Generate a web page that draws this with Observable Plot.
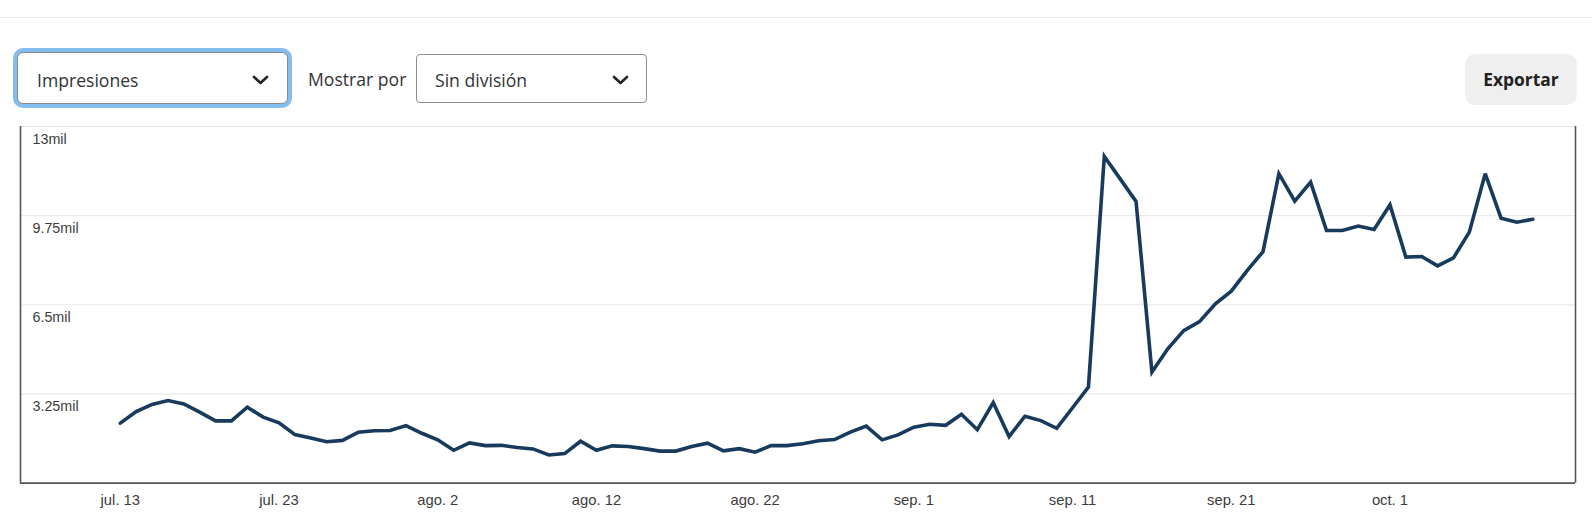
<!DOCTYPE html>
<html>
<head>
<meta charset="utf-8">
<script src="https://cdn.jsdelivr.net/npm/d3@7"></script>
<script src="https://cdn.jsdelivr.net/npm/@observablehq/plot@0.6"></script>
<style>
  html, body { margin: 0; padding: 0; background: #fff; }
  body { width: 1592px; height: 525px; overflow: hidden; font-family: "Open Sans", "Noto Sans", sans-serif; }
  #header { position: relative; width: 1592px; height: 120px; }
  .sep { position: absolute; left: 0; top: 17px; width: 1592px; height: 1px; background: #ececec; }
  .box { position: absolute; box-sizing: border-box; background: #fff; }
  .txt { position: absolute; font-size: 17.6px; color: #333; line-height: 1; white-space: nowrap; }
  .chev { position: absolute; }
  #chart { display: block; }
</style>
</head>
<body>
<div id="header">
  <div class="sep"></div>
  <div class="box" style="left:17px;top:52px;width:271px;height:52px;border:1px solid #8a8a8a;border-radius:6px;box-shadow:0 0 0 4px #84bdf0;"></div>
  <div class="txt" style="left:37px;top:72px;">Impresiones</div>
  <svg class="chev" style="left:252px;top:74px;" width="17" height="12" viewBox="0 0 17 12"><polyline points="2,3 8.5,9 15,3" fill="none" stroke="#222" stroke-width="2.6" stroke-linecap="round" stroke-linejoin="round"/></svg>
  <div class="txt" style="left:308px;top:71px;">Mostrar por</div>
  <div class="box" style="left:416px;top:54px;width:231px;height:49px;border:1px solid #8d8d8d;border-radius:4px;"></div>
  <div class="txt" style="left:435px;top:72px;">Sin división</div>
  <svg class="chev" style="left:612px;top:74px;" width="17" height="12" viewBox="0 0 17 12"><polyline points="2,3 8.5,9 15,3" fill="none" stroke="#222" stroke-width="2.6" stroke-linecap="round" stroke-linejoin="round"/></svg>
  <div class="box" style="left:1465px;top:54px;width:112px;height:51px;background:#efefef;border-radius:10px;"></div>
  <div class="txt" style="left:1465px;top:71px;width:112px;text-align:center;font-weight:700;color:#222;font-size:17.4px;">Exportar</div>
</div>
<div id="chart"></div>
<script>
// ---- data ----
const startDate = new Date(Date.UTC(2023, 6, 13));
const impressions = [
  2190, 2610, 2870, 3010, 2890, 2590, 2270, 2270, 2770, 2410,
  2200, 1770, 1650, 1510, 1560, 1860, 1910, 1920, 2100, 1820,
  1580, 1200, 1470, 1370, 1380, 1300, 1250, 1030, 1080, 1530,
  1200, 1360, 1340, 1260, 1170, 1170, 1340, 1460, 1180, 1260,
  1130, 1370, 1370, 1440, 1550, 1590, 1860, 2080, 1580, 1760,
  2040, 2150, 2110, 2510, 1950, 2940, 1700, 2440, 2280, 2000,
  2750, 3500, 11910, 11090, 10270, 4050, 4900, 5560, 5890, 6540,
  7000, 7750, 8440, 11280, 10280, 10970, 9210, 9210, 9370, 9250,
  10150, 8240, 8260, 7920, 8210, 9150, 11280, 9660, 9510, 9620
];
const yTicks = [3250, 6500, 9750, 13000];
const yLabels = ["3.25mil", "6.5mil", "9.75mil", "13mil"];
const xTickOffsets = [0, 10, 20, 30, 40, 50, 60, 70, 80];
const xLabels = ["jul. 13", "jul. 23", "ago. 2", "ago. 12", "ago. 22", "sep. 1", "sep. 11", "sep. 21", "oct. 1"];

// ---- build ----
const day = 864e5;
const data = impressions.map((v, i) => ({date: new Date(+startDate + i * day), value: v}));
const xTicks = xTickOffsets.map(o => new Date(+startDate + o * day));
const xDomain = [new Date(+startDate - 6.29 * day), new Date(+startDate + 91.69 * day)];

const chart = Plot.plot({
  width: 1592,
  height: 405,
  marginTop: 6,
  marginBottom: 42.3,
  marginLeft: 20,
  marginRight: 17,
  style: {fontFamily: "'Liberation Sans', Arial, sans-serif", fontSize: "14px", background: "#fff", overflow: "visible"},
  x: {type: "utc", domain: xDomain, axis: null},
  y: {domain: [0, 13000], axis: null},
  marks: [
    Plot.ruleY(yTicks, {stroke: "#e6e6e6", strokeWidth: 1}),
    Plot.ruleX(xDomain, {stroke: "#555", strokeWidth: 1.6}),
    Plot.ruleY([0], {stroke: "#555", strokeWidth: 1.8}),
    Plot.text(yTicks, {y: d => d, text: (d, i) => yLabels[i], frameAnchor: "left", textAnchor: "start", dx: 12, dy: 12.5, lineAnchor: "middle", fill: "#3c3c3c", fontSize: 14.3}),
    Plot.text(xTicks, {x: d => d, text: (d, i) => xLabels[i], frameAnchor: "bottom", dy: 17.5, lineAnchor: "middle", fill: "#3c3c3c", fontSize: 14.8}),
    Plot.line(data, {x: "date", y: "value", stroke: "#183a5c", strokeWidth: 3.6, strokeLinejoin: "miter", strokeMiterlimit: 3})
  ]
});
document.getElementById("chart").appendChild(chart);
</script>
</body>
</html>
